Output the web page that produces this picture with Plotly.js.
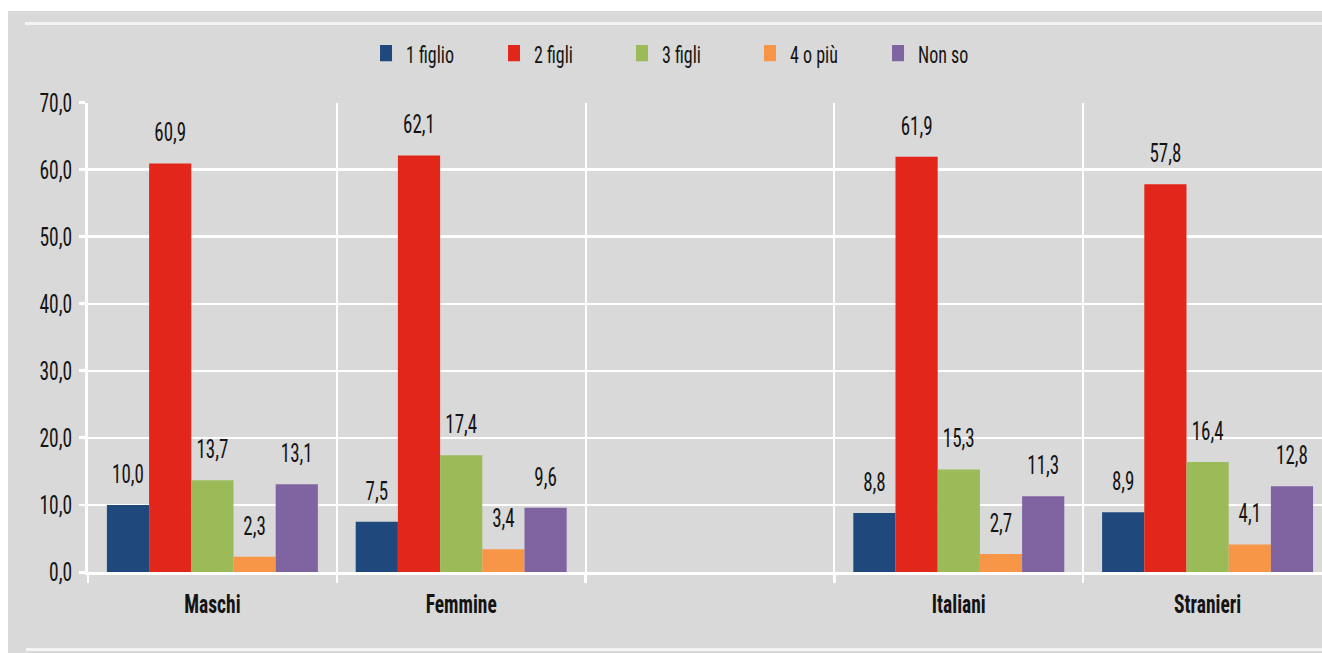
<!DOCTYPE html>
<html>
<head>
<meta charset="utf-8">
<script src="https://cdn.plot.ly/plotly-3.0.1.min.js"></script>
<style>
  html, body { margin: 0; padding: 0; background: #ffffff; overflow: hidden; width: 1322px; height: 653px; }
  #panel { position: absolute; left: 8px; top: 11px; right: 0; bottom: 0; background: #d9d9d9; }
  .rule { position: absolute; height: 3px; background: #f4f4f4; right: 0; }
  #chart { position: absolute; left: 0; top: 0; width: 1340px; height: 484px;
           transform: scaleY(1.3492); transform-origin: 0 0; }
</style>
</head>
<body>
<div id="panel"></div>
<div class="rule" style="left:25px; top:22px;"></div>
<div class="rule" style="left:26px; top:648px;"></div>
<div id="chart"></div>
<script>
// Number of children desired, by group (percent)
const categories = ['Maschi', 'Femmine', ' ', 'Italiani', 'Stranieri'];
const seriesNames = ['1 figlio', '2 figli', '3 figli', '4 o più', 'Non so'];
const unFiglio   = [10.0, 7.5, null, 8.8, 8.9];
const dueFigli   = [60.9, 62.1, null, 61.9, 57.8];
const treFigli   = [13.7, 17.4, null, 15.3, 16.4];
const quattroPiu = [2.3, 3.4, null, 2.7, 4.1];
const nonSo      = [13.1, 9.6, null, 11.3, 12.8];
const yTicks = [0, 10, 20, 30, 40, 50, 60, 70];

const seriesValues = [unFiglio, dueFigli, treFigli, quattroPiu, nonSo];
const colors = ['#1f497d', '#e3261a', '#9bbb59', '#f79646', '#8064a2'];

const FONT = '"Liberation Sans Narrow", "Noto Sans Condensed", "Noto Sans ExtraCondensed", "Roboto Condensed", "DejaVu Sans Condensed", sans-serif';
const INK = '#141414';
const GAP = 0.152;

const traces = [];
seriesValues.forEach((vals, i) => {
  traces.push({
    type: 'bar',
    name: seriesNames[i],
    x: categories,
    y: vals,
    marker: { color: colors[i], line: { width: 0 } },
    hoverinfo: 'skip'
  });
});
// value labels, grouped the same way as the bars
seriesValues.forEach((vals, i) => {
  traces.push({
    type: 'scatter',
    mode: 'markers+text',
    x: categories,
    y: vals,
    showlegend: false,
    marker: { size: 17, color: 'rgba(0,0,0,0)' },
    texttemplate: '%{y:.1f}',
    textposition: 'top center',
    textfont: { family: FONT, size: 19, color: INK },
    cliponaxis: false,
    hoverinfo: 'skip'
  });
});

const layout = {
  width: 1340,
  height: 484,
  margin: { l: 88, r: 8, t: 76, b: 60 },
  paper_bgcolor: 'rgba(0,0,0,0)',
  plot_bgcolor: 'rgba(0,0,0,0)',
  separators: ',.',
  barmode: 'group',
  bargap: GAP,
  bargroupgap: 0,
  scattermode: 'group',
  scattergap: GAP,
  font: { family: FONT, color: INK },
  showlegend: true,
  legend: {
    orientation: 'h',
    x: 0.2235, xanchor: 'left',
    y: 1.1043, yanchor: 'middle',
    bgcolor: 'rgba(0,0,0,0)',
    font: { family: FONT, size: 18, color: INK },
    entrywidth: 83,
    entrywidthmode: 'pixels',
    traceorder: 'normal'
  },
  xaxis: {
    type: 'category',
    categoryorder: 'array',
    categoryarray: categories,
    tickson: 'boundaries',
    showgrid: true,
    gridcolor: '#ffffff',
    gridwidth: 1.85,
    showline: true,
    linecolor: '#ffffff',
    linewidth: 2.2,
    ticks: 'outside',
    ticklen: 6,
    tickwidth: 2.5,
    tickcolor: '#ffffff',
    ticklabelstandoff: 5,
    tickfont: { family: FONT, size: 19.5, color: INK, weight: 'bold' },
    fixedrange: true
  },
  yaxis: {
    range: [0, 70],
    tickvals: yTicks,
    tickformat: '.1f',
    showgrid: true,
    gridcolor: '#ffffff',
    gridwidth: 1.85,
    zeroline: false,
    showline: true,
    linecolor: '#ffffff',
    linewidth: 3,
    ticks: 'outside',
    ticklen: 6,
    tickwidth: 2.2,
    tickcolor: '#ffffff',
    ticklabelstandoff: 3,
    tickfont: { family: FONT, size: 19.5, color: INK },
    fixedrange: true
  }
};

Plotly.newPlot('chart', traces, layout, { displayModeBar: false, staticPlot: true });
</script>
</body>
</html>
